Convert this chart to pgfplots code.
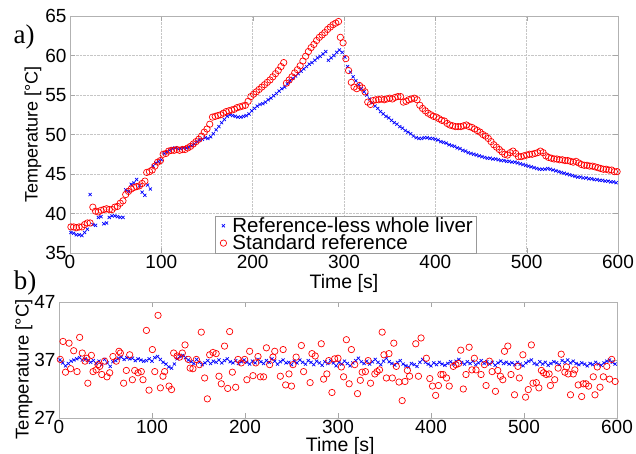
\documentclass[border=0pt]{standalone}
\usepackage{fontspec}
\setmainfont{Liberation Sans}
\newfontfamily\timesfont{Liberation Serif}
\usepackage{pgfplots}
\pgfplotsset{compat=1.18}

\pgfplotsset{
  matfig/.style={
    scale only axis,
    xmin=0, xmax=600,
    xtick={0,100,...,600},
    axis line style={gray!60, line width=0.8pt},
    tick style={gray!70},
    tick align=inside,
    major tick length=5pt,
    ticklabel style={font=\fontsize{19}{19}\selectfont},
    xticklabel style={inner sep=2pt},
    /pgf/number format/assume math mode=true,
    label style={font=\fontsize{19.5}{19.5}\selectfont},
    ylabel style={font=\fontsize{18}{18}\selectfont},
  },
  shortmarks/.style={only marks,
    legend image code/.code={\path[draw=none,fill=none] (0pt,-3pt) (14pt,3pt);
      \draw[mark repeat=2,mark phase=2,##1]
      plot coordinates {(0pt,0pt)(7pt,0pt)(14pt,0pt)};}},
}

\begin{document}
\begin{tikzpicture}

% ---- a) ----
\begin{axis}[matfig,
  at={(70pt,-16pt)}, anchor=north west,
  width=548pt, height=237pt,
  ymin=35, ymax=65, ytick={35,40,...,65},
  grid=major, grid style={densely dotted, gray!45},
  xlabel={Time [s]}, ylabel={Temperature [°C]},
  xlabel style={at={(axis description cs:0.5,-0.128)}, anchor=center},
  ylabel style={at={(axis description cs:-0.0675,0.5)}, anchor=center},
  legend style={at={(rel axis cs:0.265,0)}, anchor=south west,
    draw=gray!80, fill=white, inner xsep=1pt, inner ysep=1pt, row sep=0pt,
    nodes={inner xsep=2pt, inner ysep=0.5pt},
    font=\fontsize{20.5}{22}\selectfont},
  legend cell align=left,
]
\addplot[shortmarks, mark=x, blue, mark size=2.2pt, line width=0.7pt] coordinates {
(1,37.6)(4,37.5)(7,37.3)(10,37.3)(13,37.2)(16,37.6)(19,38.0)(22,42.4)(25,38.6)(28,38.5)
(31,39.5)(34,39.6)(37,38.7)(40,38.8)(43,39.5)(46,39.7)(49,39.7)(52,39.6)(55,39.5)(58,39.5)
(61,43.0)(64,42.8)(67,43.7)(70,43.9)(73,44.3)(76,43.5)(79,42.7)(82,42.3)(85,43.6)(88,43.1)
(91,46.0)(94,46.4)(97,46.6)(100,46.8)(103,47.6)(106,47.8)(109,48.0)(112,48.2)(115,48.3)(118,48.2)
(121,48.2)(124,48.3)(127,48.3)(130,48.4)(133,48.6)(136,48.8)(139,49.1)(142,49.3)(145,49.4)(148,49.6)
(151,49.5)(154,49.7)(157,50.1)(160,50.6)(163,51.0)(166,51.5)(169,51.9)(172,52.3)(175,52.5)(178,52.4)
(181,52.3)(184,52.2)(187,52.2)(190,52.3)(193,52.4)(196,52.6)(199,53.0)(202,53.3)(205,53.6)(208,53.8)
(211,53.9)(214,54.1)(217,54.4)(220,54.6)(223,54.9)(226,55.2)(229,55.5)(232,55.8)(235,56.0)(238,56.4)
(241,56.8)(244,57.1)(247,57.4)(250,57.7)(253,58.0)(256,58.3)(259,58.6)(262,58.9)(265,59.1)(268,59.4)
(271,59.7)(274,59.9)(277,60.2)(280,60.5)(283,59.4)(286,59.7)(289,60.0)(292,60.4)(295,60.7)(298,60.4)
(301,59.8)(304,58.6)(307,57.9)(310,57.3)(313,56.8)(316,56.3)(319,55.8)(322,55.4)(325,55.0)(328,54.5)
(331,54.0)(334,53.6)(337,53.3)(340,52.9)(343,52.6)(346,52.3)(349,52.1)(352,51.8)(355,51.5)(358,51.3)
(361,51.0)(364,50.8)(367,50.5)(370,50.3)(373,50.1)(376,49.8)(379,49.6)(382,49.5)(385,49.5)(388,49.6)
(391,49.6)(394,49.5)(397,49.5)(400,49.4)(403,49.3)(406,49.1)(409,49.0)(412,48.9)(415,48.7)(418,48.6)
(421,48.5)(424,48.3)(427,48.2)(430,48.0)(433,47.9)(436,47.7)(439,47.6)(442,47.5)(445,47.4)(448,47.3)
(451,47.2)(454,47.1)(457,47.0)(460,47.0)(463,46.9)(466,46.9)(469,46.8)(472,46.7)(475,46.7)(478,46.6)
(481,46.6)(484,46.5)(487,46.5)(490,46.4)(493,46.3)(496,46.2)(499,46.1)(502,46.0)(505,45.9)(508,45.8)
(511,45.7)(514,45.6)(517,45.6)(520,45.6)(523,45.7)(526,45.6)(529,45.5)(532,45.4)(535,45.3)(538,45.2)
(541,45.1)(544,45.0)(547,44.9)(550,44.8)(553,44.7)(556,44.6)(559,44.6)(562,44.5)(565,44.5)(568,44.4)
(571,44.4)(574,44.3)(577,44.3)(580,44.2)(583,44.2)(586,44.1)(589,44.1)(592,44.0)(595,44.0)(598,43.9)
};
\addlegendentry{Reference-less whole liver}
\addplot[shortmarks, mark=o, red, mark size=3.2pt, line width=0.7pt] coordinates {
(1,38.3)(4,38.3)(7,38.2)(10,38.3)(13,38.3)(16,38.6)(19,38.8)(22,38.8)(25,40.8)(28,40.3)
(31,40.2)(34,40.4)(37,40.5)(40,40.6)(43,40.5)(46,40.5)(49,40.8)(52,40.9)(55,41.3)(58,41.6)
(61,42.4)(64,42.8)(67,43.1)(70,43.3)(73,43.4)(76,43.5)(79,43.8)(82,44.1)(84,45.2)(87,45.3)
(90,45.5)(93,46.0)(96,46.5)(99,46.7)(102,47.5)(105,47.6)(108,47.9)(111,48.0)(114,48.0)(117,48.1)
(120,48.0)(123,48.1)(126,48.1)(129,48.3)(132,48.5)(135,48.8)(138,49.1)(141,49.4)(144,49.8)(147,50.3)
(150,50.7)(153,51.3)(156,52.2)(159,52.3)(162,52.4)(165,52.5)(168,52.7)(171,52.9)(174,53.0)(177,53.1)
(180,53.2)(183,53.4)(186,53.5)(189,53.6)(192,53.7)(195,54.2)(198,54.8)(201,55.1)(204,55.4)(207,55.7)
(210,56.0)(213,56.3)(216,56.6)(219,56.9)(222,57.3)(225,57.7)(228,58.1)(231,58.6)(234,59.1)(237,56.5)
(240,56.9)(243,57.3)(246,57.8)(249,58.2)(252,58.7)(255,59.3)(258,59.9)(261,60.5)(264,61.0)(267,61.4)
(270,61.9)(273,62.3)(276,62.6)(279,62.9)(282,63.3)(285,63.6)(288,63.9)(291,64.1)(294,64.3)(296,62.3)
(299,61.6)(302,59.6)(305,58.1)(308,56.6)(311,56.0)(314,55.8)(317,56.2)(320,55.9)(323,55.4)(326,54.1)
(329,53.8)(332,54.3)(335,54.4)(338,54.4)(341,54.5)(344,54.4)(347,54.5)(350,54.6)(353,54.5)(356,54.7)
(359,54.8)(362,54.8)(365,54.1)(368,54.2)(371,54.4)(374,54.5)(377,54.6)(380,54.4)(383,53.7)(386,53.3)
(389,53.0)(392,52.7)(395,52.5)(398,52.3)(401,52.2)(404,52.0)(407,51.8)(410,51.7)(413,51.4)(416,51.2)
(419,51.1)(422,51.0)(425,51.0)(428,51.0)(431,51.1)(434,51.2)(437,51.0)(440,50.9)(443,50.7)(446,50.5)
(449,50.3)(452,50.0)(455,49.8)(458,49.5)(461,49.1)(464,48.7)(467,48.4)(470,48.1)(473,47.8)(476,47.5)
(479,47.4)(482,47.7)(485,47.9)(488,47.6)(491,47.2)(494,47.2)(497,47.3)(500,47.4)(503,47.5)(506,47.5)
(509,47.6)(512,47.7)(515,47.9)(518,47.7)(521,47.3)(524,47.1)(527,47.0)(530,46.9)(533,46.9)(536,46.8)
(539,46.8)(542,46.7)(545,46.7)(548,46.6)(551,46.5)(554,46.6)(557,46.4)(560,46.2)(563,46.1)(566,46.1)
(569,46.0)(572,46.0)(575,45.9)(578,45.8)(581,45.7)(584,45.6)(587,45.6)(590,45.5)(593,45.5)(596,45.3)
(599,45.3)
};
\addlegendentry{Standard reference}
\end{axis}

% ---- b) ----
\begin{axis}[matfig,
  at={(59pt,-302pt)}, anchor=north west,
  width=558pt, height=116pt,
  ymin=27, ymax=47, ytick={27,37,47},
  xlabel={Time [s]}, ylabel={Temperature [°C]},
  xlabel style={at={(axis description cs:0.504,-0.245)}, anchor=center},
  ylabel style={at={(axis description cs:-0.063,0.42)}, anchor=center,
    font=\fontsize{18.5}{18.5}\selectfont},
]
\addplot[only marks, mark=x, blue, mark size=2.2pt, line width=0.7pt] coordinates {
(1,37.0)(4,36.5)(7,36.0)(10,36.4)(13,36.8)(16,37.0)(19,37.2)(22,37.4)(25,37.0)(28,37.2)
(31,36.9)(34,36.6)(37,36.9)(40,36.4)(43,36.8)(46,36.2)(49,37.1)(52,36.5)(55,35.9)(58,36.7)
(61,36.9)(64,37.3)(67,37.5)(70,37.1)(73,37.4)(76,37.2)(79,37.3)(82,36.9)(85,37.2)(88,37.0)
(91,36.8)(94,36.9)(97,37.2)(100,36.8)(103,37.4)(106,37.6)(109,37.1)(112,36.6)(115,36.3)(118,35.8)
(121,35.6)(124,36.3)(127,37.2)(130,37.6)(133,37.8)(136,37.4)(139,37.0)(142,36.7)(145,36.4)(148,37.1)
(151,36.6)(154,36.2)(157,36.5)(160,36.9)(163,36.4)(166,36.8)(169,36.6)(172,37.0)(175,36.5)(178,36.9)
(181,37.2)(184,36.7)(187,36.5)(190,36.9)(193,36.4)(196,36.7)(199,37.0)(202,36.6)(205,36.3)(208,36.8)
(211,36.5)(214,37.1)(217,36.7)(220,36.4)(223,36.9)(226,36.6)(229,37.2)(232,36.8)(235,36.3)(238,36.7)
(241,37.0)(244,36.5)(247,36.6)(250,36.2)(253,36.8)(256,36.5)(259,37.0)(262,36.6)(265,36.3)(268,36.9)
(271,36.6)(274,36.2)(277,36.8)(280,36.5)(283,36.1)(286,36.7)(289,36.4)(292,36.9)(295,36.5)(298,36.0)
(301,36.6)(304,36.3)(307,36.8)(310,36.4)(313,36.0)(316,36.5)(319,36.9)(322,37.3)(325,36.7)(328,36.4)
(331,36.8)(334,36.3)(337,36.7)(340,37.1)(343,36.6)(346,36.2)(349,36.8)(352,37.3)(355,36.7)(358,36.4)
(361,36.1)(364,36.6)(367,36.9)(370,36.3)(373,36.0)(376,35.8)(379,36.4)(382,36.2)(385,35.9)(388,36.6)
(391,37.1)(394,36.6)(397,36.3)(400,36.0)(403,36.5)(406,36.2)(409,36.6)(412,36.3)(415,36.1)(418,36.4)
(421,36.7)(424,36.3)(427,36.8)(430,37.1)(433,36.6)(436,36.3)(439,36.7)(442,36.4)(445,36.8)(448,36.2)
(451,36.5)(454,36.9)(457,36.4)(460,36.7)(463,36.3)(466,36.6)(469,36.1)(472,36.5)(475,36.8)(478,36.4)
(481,36.6)(484,36.3)(487,36.5)(490,36.2)(493,36.6)(496,36.3)(499,36.0)(502,36.5)(505,36.8)(508,37.0)
(511,36.4)(514,36.2)(517,36.7)(520,36.3)(523,36.6)(526,36.1)(529,36.4)(532,36.7)(535,36.5)(538,36.2)
(541,36.9)(544,36.6)(547,37.0)(550,36.5)(553,36.8)(556,36.4)(559,36.2)(562,36.5)(565,36.3)(568,36.0)
(571,36.4)(574,36.2)(577,36.6)(580,36.3)(583,36.1)(586,36.5)(589,36.8)(592,37.0)(595,36.6)(598,36.3)
};
\addplot[only marks, mark=o, red, mark size=3.2pt, line width=0.7pt] coordinates {
(1.4,37.1)(4.3,40.2)(7,34.9)(10.8,39.9)(12.5,35.5)(15.8,38.6)(19.4,35.0)(22.2,40.9)(25,38.2)(28,36.8)
(30,37.3)(31,33.0)(34.8,37.8)(36.6,35.0)(40,35.3)(42,36.2)(43.7,35.9)(46,34.5)(49,36.8)(51.6,34.1)
(54.5,34.8)(58,37.6)(61.6,36.8)(64.5,38.5)(66,38.2)(69.5,33.0)(72.4,35.2)(76,37.9)(78.9,33.6)(81.4,35.2)
(85,34.8)(88.5,35.0)(90.3,33.6)(94,42.1)(96.8,31.8)(100.4,38.8)(103,35.0)(106.5,44.7)(109,32.2)(111.8,34.2)
(113.6,35.0)(118.3,32.5)(121,31.9)(123.3,38.2)(127,37.7)(129.7,37.5)(132.6,38.2)(135.5,39.6)(139,37.1)(141,35.6)
(144,35.5)(147.7,37.1)(151,36.2)(153,41.8)(156.6,33.9)(159.5,30.3)(162,37.9)(165.6,38.3)(169,38.1)(172,34.2)
(174.5,32.9)(178,39.4)(181.4,32.1)(183.5,41.9)(186.4,34.9)(190,32.3)(192.5,37.1)(196,36.5)(199.6,37.1)(202,33.6)
(205,38.5)(208.6,34.3)(211.5,36.5)(214,37.6)(216.5,34.1)(220,34.1)(223,39.1)(226.5,36.2)(230,37.5)(232,38.5)
(238,34.2)(241,38.8)(243.7,32.7)(247.3,34.6)(250,32.5)(251.6,36.2)(255,37.5)(260.6,39.5)(263,35.0)(270,33.1)
(272,38.1)(275.5,37.7)(282,39.8)(284.5,33.7)(288,34.6)(290,36.9)(293.5,31.4)(296.4,37.2)(300,37.3)(303.6,35.8)
(306,34.1)(309,40.5)(312,32.9)(314.4,38.8)(318,36.2)(321,31.2)(324,33.5)(326,34.9)(329.5,35.0)(332.4,36.9)
(335,33.0)(339.6,34.6)(342,35.0)(344.7,35.3)(347.5,41.8)(349.4,37.9)(352,33.9)(354.8,38.1)(358.4,33.9)(360,39.9)
(362.7,35.9)(365.6,33.2)(369,30.0)(372,33.3)(374.6,35.2)(377,34.2)(383.6,39.8)(386.5,34.2)(389.3,40.8)(395,37.3)
(398.7,33.8)(401.6,32.5)(405,30.9)(408,32.6)(410.6,34.5)(413,34.5)(416.7,33.9)(419.6,32.5)(424,35.9)(426.8,36.2)
(429.7,36.4)(432,38.7)(434.7,32.0)(437.6,34.5)(441,39.2)(444,35.3)(446.6,37.3)(448.4,35.3)(453.8,34.5)(457.4,36.2)
(459.2,32.6)(462.8,36.8)(465.7,35.0)(469.3,31.6)(471.8,35.2)(474.7,34.2)(477.2,33.6)(479,38.5)(482.6,39.4)(486,34.5)
(489.8,31.0)(493.4,35.9)(495,33.9)(498.8,37.9)(501.7,30.6)(504.6,31.9)(507.9,39.6)(509.7,33.0)(513.3,33.1)(516,32.2)
(518.7,35.2)(521,34.8)(524,34.5)(527,34.6)(528.4,32.6)(533,33.6)(536.7,35.6)(540,38.0)(543.9,34.9)(545.7,35.8)
(547.5,34.6)(550,31.0)(553,34.6)(554.7,35.3)(558.3,32.7)(562,30.7)(563.7,32.9)(566.6,32.9)(569.5,32.5)(574.5,34.1)
(576.3,31.0)(578.8,35.8)(581.7,32.3)(585.3,34.1)(589,35.9)(592,33.7)(594.3,37.1)(598,33.3)
};
\end{axis}

% panel letters
\node[font=\timesfont\fontsize{27}{27}\selectfont] at (24pt,-37pt) {a)};
\node[font=\timesfont\fontsize{27}{27}\selectfont] at (25pt,-283pt) {b)};

\pgfresetboundingbox
\path (0pt,0pt) rectangle (636pt,-454pt);
\end{tikzpicture}
\end{document}
